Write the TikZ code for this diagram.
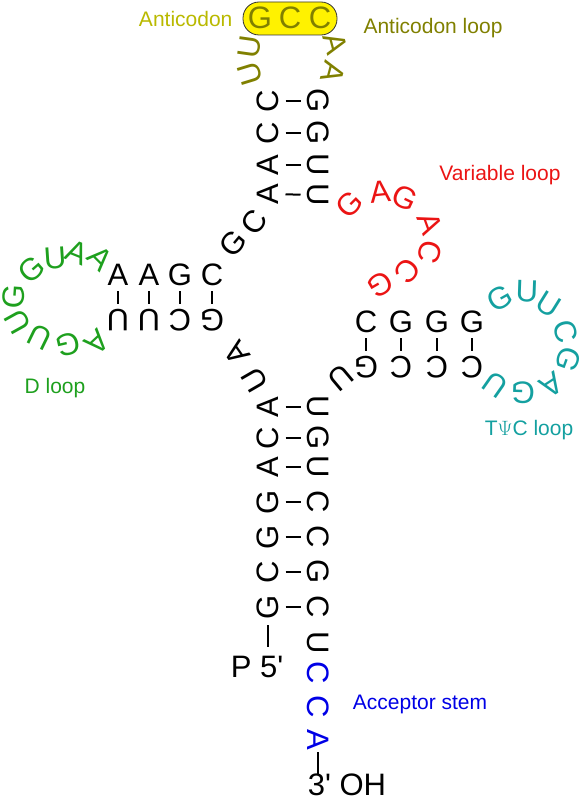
\documentclass[tikz,border=0pt]{standalone}
\usepackage{fontspec}
\setmainfont{Liberation Sans}
\usepackage{tikz}
\usetikzlibrary{positioning}

\definecolor{codonyellow}{RGB}{185,185,0}
\definecolor{loopolive}{RGB}{128,128,0}
\definecolor{dgreen}{RGB}{30,160,30}
\definecolor{tteal}{RGB}{20,160,160}
\definecolor{vred}{RGB}{235,20,20}
\definecolor{accblue}{RGB}{0,0,230}

\begin{document}
\begin{tikzpicture}[
x=1pt, y=-1pt,
nt/.style={inner sep=0pt, font=\fontsize{31}{36}\selectfont},
hbond/.style={line width=2pt, shorten <=17.5pt, shorten >=17.5pt},
vbond/.style={line width=2pt, shorten <=16pt, shorten >=16pt},
tail/.style={line width=2pt},
tag/.style={inner sep=0pt, font=\fontsize{21}{25}\selectfont}
]
\useasboundingbox (0,0) rectangle (587,800);

%Acceptor stem
\node[nt, rotate=90]  (a1) at (268,607) {G};
\node[nt, rotate=90]  (a2) at (268,572) {C};
\node[nt, rotate=90]  (a3) at (268,537) {G};
\node[nt, rotate=90]  (a4) at (268,502) {G};
\node[nt, rotate=90]  (a5) at (268,467) {A};
\node[nt, rotate=90]  (a6) at (268,438) {C};
\node[nt, rotate=90]  (a7) at (268,407) {A};
\node[nt, rotate=-90] (b1) at (318,607) {C};
\node[nt, rotate=-90] (b2) at (318,572) {G};
\node[nt, rotate=-90] (b3) at (318,537) {C};
\node[nt, rotate=-90] (b4) at (318,502) {C};
\node[nt, rotate=-90] (b5) at (318,467) {U};
\node[nt, rotate=-90] (b6) at (318,438) {G};
\node[nt, rotate=-90] (b7) at (318,407) {U};
\node[nt, rotate=-90] (t1) at (318,643) {U};
\node[nt, rotate=-90, accblue] (t2) at (318,673) {C};
\node[nt, rotate=-90, accblue] (t3) at (318,707) {C};
\node[nt, rotate=-90, accblue] (t4) at (318,740) {A};
\node[nt] (p5)  at (257,667) {P 5\textquotesingle};
\node[nt] (oh3) at (347,785) {3\textquotesingle{} OH};
\coordinate (five)  at (268,647);
\coordinate (three) at (318,774);

%D arm
\node[nt, rotate=120] (u8) at (255,380) {U};
\node[nt, rotate=125] (a9) at (237,353) {A};
\node[nt, rotate=180] (d1) at (212,320) {G};
\node[nt, rotate=180] (d2) at (180,320) {C};
\node[nt, rotate=180] (d3) at (149,320) {U};
\node[nt, rotate=180] (d4) at (118,320) {U};
\node[nt, rotate=-137, dgreen] (l1) at (97,342) {A};
\node[nt, rotate=-167, dgreen] (l2) at (68,345) {G};
\node[nt, rotate=154, dgreen]  (l3) at (40,337) {U};
\node[nt, rotate=119, dgreen]  (l4) at (18,322) {U};
\node[nt, rotate=86, dgreen]   (l5) at (14,297) {G};
\node[nt, rotate=41, dgreen]   (l6) at (32,270) {G};
\node[nt, rotate=4, dgreen]    (l7) at (55,258) {U};
\node[nt, rotate=-22, dgreen]  (l8) at (77,252) {A};
\node[nt, rotate=-45, dgreen]  (l9) at (100,258) {A};
\node[nt] (e1) at (118,275) {A};
\node[nt] (e2) at (149,275) {A};
\node[nt] (e3) at (180,275) {G};
\node[nt] (e4) at (212,275) {C};
\node[nt, rotate=50] (g26) at (233,243) {G};
\node[nt, rotate=55] (c27) at (254,222) {C};

%Anticodon arm
\node[nt, rotate=90] (c1) at (268,194) {A};
\node[nt, rotate=90] (c2) at (268,165) {A};
\node[nt, rotate=90] (c3) at (268,133) {C};
\node[nt, rotate=90] (c4) at (268,101) {C};
\node[nt, rotate=107, loopolive] (u1) at (250,74) {U};
\node[nt, rotate=82, loopolive]  (u2) at (250,47) {U};
\node[draw=black!80, line width=0.8pt, fill=yellow, rounded corners=16pt,
      minimum width=94pt, minimum height=33pt] (acbox) at (290,18.5) {};
\node[nt, loopolive] (ac1) at (260,18) {G};
\node[nt, loopolive] (ac2) at (290,18) {C};
\node[nt, loopolive] (ac3) at (320,18) {C};
\node[nt, rotate=-75, loopolive]  (x1) at (335,44) {A};
\node[nt, rotate=-105, loopolive] (x2) at (333,72) {A};
\node[nt, rotate=-90] (h1) at (318,101) {G};
\node[nt, rotate=-90] (h2) at (318,133) {G};
\node[nt, rotate=-90] (h3) at (318,165) {U};
\node[nt, rotate=-90] (h4) at (318,195) {U};

%Variable loop
\node[nt, rotate=45, vred]   (v1) at (349,204) {G};
\node[nt, rotate=6, vred]    (v2) at (380,192) {A};
\node[nt, rotate=-25, vred]  (v3) at (405,198) {G};
\node[nt, rotate=-70, vred]  (v4) at (430,224) {A};
\node[nt, rotate=-105, vred] (v5) at (430,252) {C};
\node[nt, rotate=-130, vred] (v6) at (407,271) {C};
\node[nt, rotate=-150, vred] (v7) at (380,285) {G};

%T arm
\node[nt] (s1) at (366,322) {C};
\node[nt] (s2) at (401,322) {G};
\node[nt] (s3) at (437,322) {G};
\node[nt] (s4) at (472,322) {G};
\node[nt, rotate=29, tteal]   (w1) at (500,298) {G};
\node[nt, rotate=-2, tteal]   (w2) at (527,291) {U};
\node[nt, rotate=-32, tteal]  (w3) at (549,305) {U};
\node[nt, rotate=-75, tteal]  (w4) at (566,332) {C};
\node[nt, rotate=-110, tteal] (w5) at (568,359) {G};
\node[nt, rotate=-147, tteal] (w6) at (552,385) {A};
\node[nt, rotate=178, tteal]  (w7) at (523,393) {G};
\node[nt, rotate=145, tteal]  (w8) at (495,385) {U};
\node[nt, rotate=180] (r1) at (472,367) {C};
\node[nt, rotate=180] (r2) at (437,367) {C};
\node[nt, rotate=180] (r3) at (401,367) {C};
\node[nt, rotate=180] (r4) at (366,367) {G};
\node[nt, rotate=-140] (u48) at (341,378) {U};

%Labels
\node[tag, codonyellow, left=10pt of acbox] (anticodon) {Anticodon};
\node[tag, loopolive] (acloop)  at (433,28)  {Anticodon loop};
\node[tag, vred]      (varloop) at (500,175) {Variable loop};
\node[tag, dgreen]    (dloop)   at (55,388)  {D loop};
\node[tag, tteal]     (tloop)   at (529,430) {T$\Psi$C loop};
\node[tag, accblue]   (accstem) at (420,704) {Acceptor stem};

%Lines
\draw[hbond] (a1.center) -- (b1.center);
\draw[hbond] (a2.center) -- (b2.center);
\draw[hbond] (a3.center) -- (b3.center);
\draw[hbond] (a4.center) -- (b4.center);
\draw[hbond] (a5.center) -- (b5.center);
\draw[hbond] (a6.center) -- (b6.center);
\draw[hbond] (a7.center) -- (b7.center);
\draw[hbond] (c1.center) -- (h4.center);
\draw[hbond] (c2.center) -- (h3.center);
\draw[hbond] (c3.center) -- (h2.center);
\draw[hbond] (c4.center) -- (h1.center);
\draw[vbond] (e1.center) -- (d4.center);
\draw[vbond] (e2.center) -- (d3.center);
\draw[vbond] (e3.center) -- (d2.center);
\draw[vbond] (e4.center) -- (d1.center);
\draw[vbond] (s1.center) -- (r4.center);
\draw[vbond] (s2.center) -- (r3.center);
\draw[vbond] (s3.center) -- (r2.center);
\draw[vbond] (s4.center) -- (r1.center);
\draw[tail, shorten <=18pt] (a1.center) -- (five);
\draw[tail, shorten <=12pt] (t4.center) -- (three);

\end{tikzpicture}
\end{document}
